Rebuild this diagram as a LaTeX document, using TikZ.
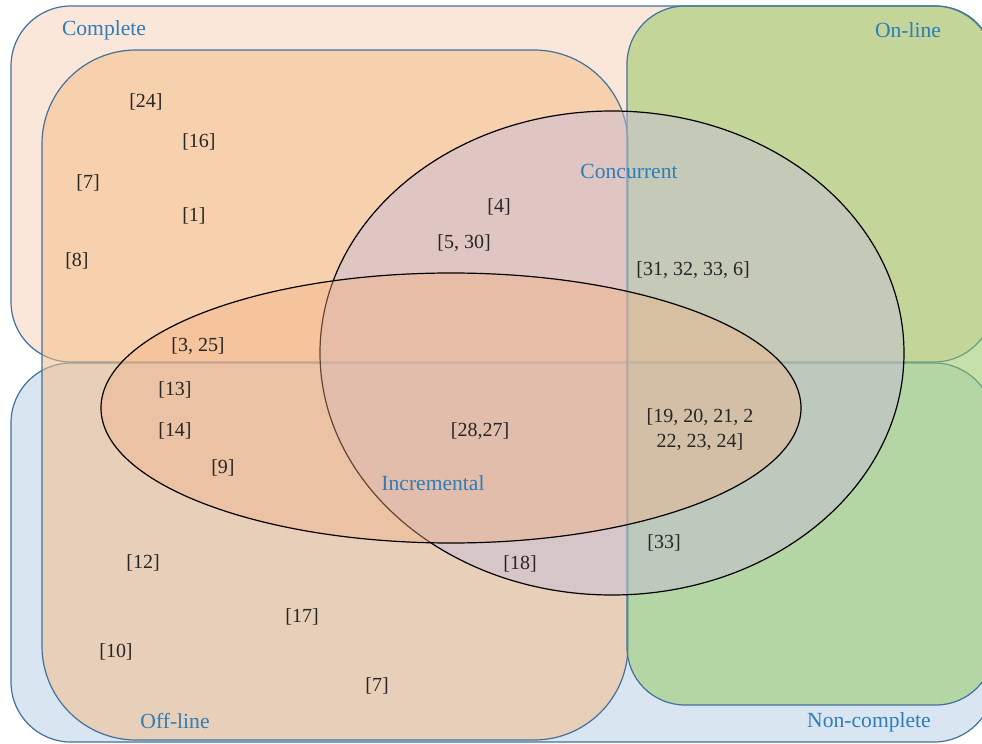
\documentclass[tikz,border=0pt]{standalone}
\usepackage{fontspec}
\setmainfont{Liberation Serif}
\definecolor{setblue}{RGB}{45,125,185}
\definecolor{edgeblue}{RGB}{65,113,156}
\definecolor{peach}{RGB}{251,231,217}
\definecolor{paleblue}{RGB}{218,229,242}
\definecolor{offorange}{RGB}{244,190,140}
\definecolor{ongreen}{RGB}{150,200,100}
\definecolor{lavender}{RGB}{200,190,215}
\definecolor{incorange}{RGB}{244,176,131}
\begin{document}
\begin{tikzpicture}[x=0.5pt, y=-0.5pt, font=\fontsize{10}{12.5}\selectfont,
    setbox/.style={draw=edgeblue, line width=0.6pt, rounded corners=#1},
    setring/.style={draw=black, line width=0.6pt},
    setname/.style={text=setblue, font=\fontsize{10.8}{13}\selectfont, yshift=-1pt},
    ref/.style={text=black!85, yshift=-1pt}]
  \useasboundingbox (0,0) rectangle (982,744);
  \clip (0,0) rectangle (982,744);
  \fill[white] (0,0) rectangle (982,744);
  % the four boxes
  \draw[setbox=30pt, fill=peach]    (11,6)   rectangle (994,362);
  \draw[setbox=30pt, fill=paleblue] (11,363) rectangle (994,742);
  \draw[setbox=47pt, fill=offorange, fill opacity=0.55] (42,50) rectangle (628,740);
  \draw[setbox=29pt, fill=ongreen, fill opacity=0.55]   (627,6) rectangle (994,705);
  % the two ellipses
  \draw[setring, fill=lavender, fill opacity=0.5]  (612,353) ellipse [x radius=292, y radius=242];
  \draw[setring, fill=incorange, fill opacity=0.4] (451,408) ellipse [x radius=350, y radius=135];
  % names of the sets
  \node[setname] (complete)    at (104,28)  {Complete};
  \node[setname] (online)      at (908,28)  {On-line};
  \node[setname] (concurrent)  at (629,169) {Concurrent};
  \node[setname] (incremental) at (433,481) {Incremental};
  \node[setname] (offline)     at (175,719) {Off-line};
  \node[setname] (noncomplete) at (869,720) {Non-complete};
  % references
  \node[ref] (r24)   at (146,100) {[24]};
  \node[ref] (r16)   at (199,140) {[16]};
  \node[ref] (r7a)   at (88,181)  {[7]};
  \node[ref] (r1)    at (194,214) {[1]};
  \node[ref] (r8)    at (77,259)  {[8]};
  \node[ref] (r4)    at (499,205) {[4]};
  \node[ref] (r530)  at (464,241) {[5, 30]};
  \node[ref] (r31)   at (693,268) {[31, 32, 33, 6]};
  \node[ref] (r325)  at (198,344) {[3, 25]};
  \node[ref] (r13)   at (175,388) {[13]};
  \node[ref] (r14)   at (175,429) {[14]};
  \node[ref] (r9)    at (223,466) {[9]};
  \node[ref] (r2827) at (480,429) {[28,27]};
  \node[ref, align=center] (r19) at (700,428) {[19, 20, 21, 2\\22, 23, 24]};
  \node[ref] (r33)   at (664,541) {[33]};
  \node[ref] (r18)   at (520,562) {[18]};
  \node[ref] (r12)   at (143,561) {[12]};
  \node[ref] (r17)   at (302,615) {[17]};
  \node[ref] (r10)   at (116,650) {[10]};
  \node[ref] (r7b)   at (377,684) {[7]};
\end{tikzpicture}
\end{document}
